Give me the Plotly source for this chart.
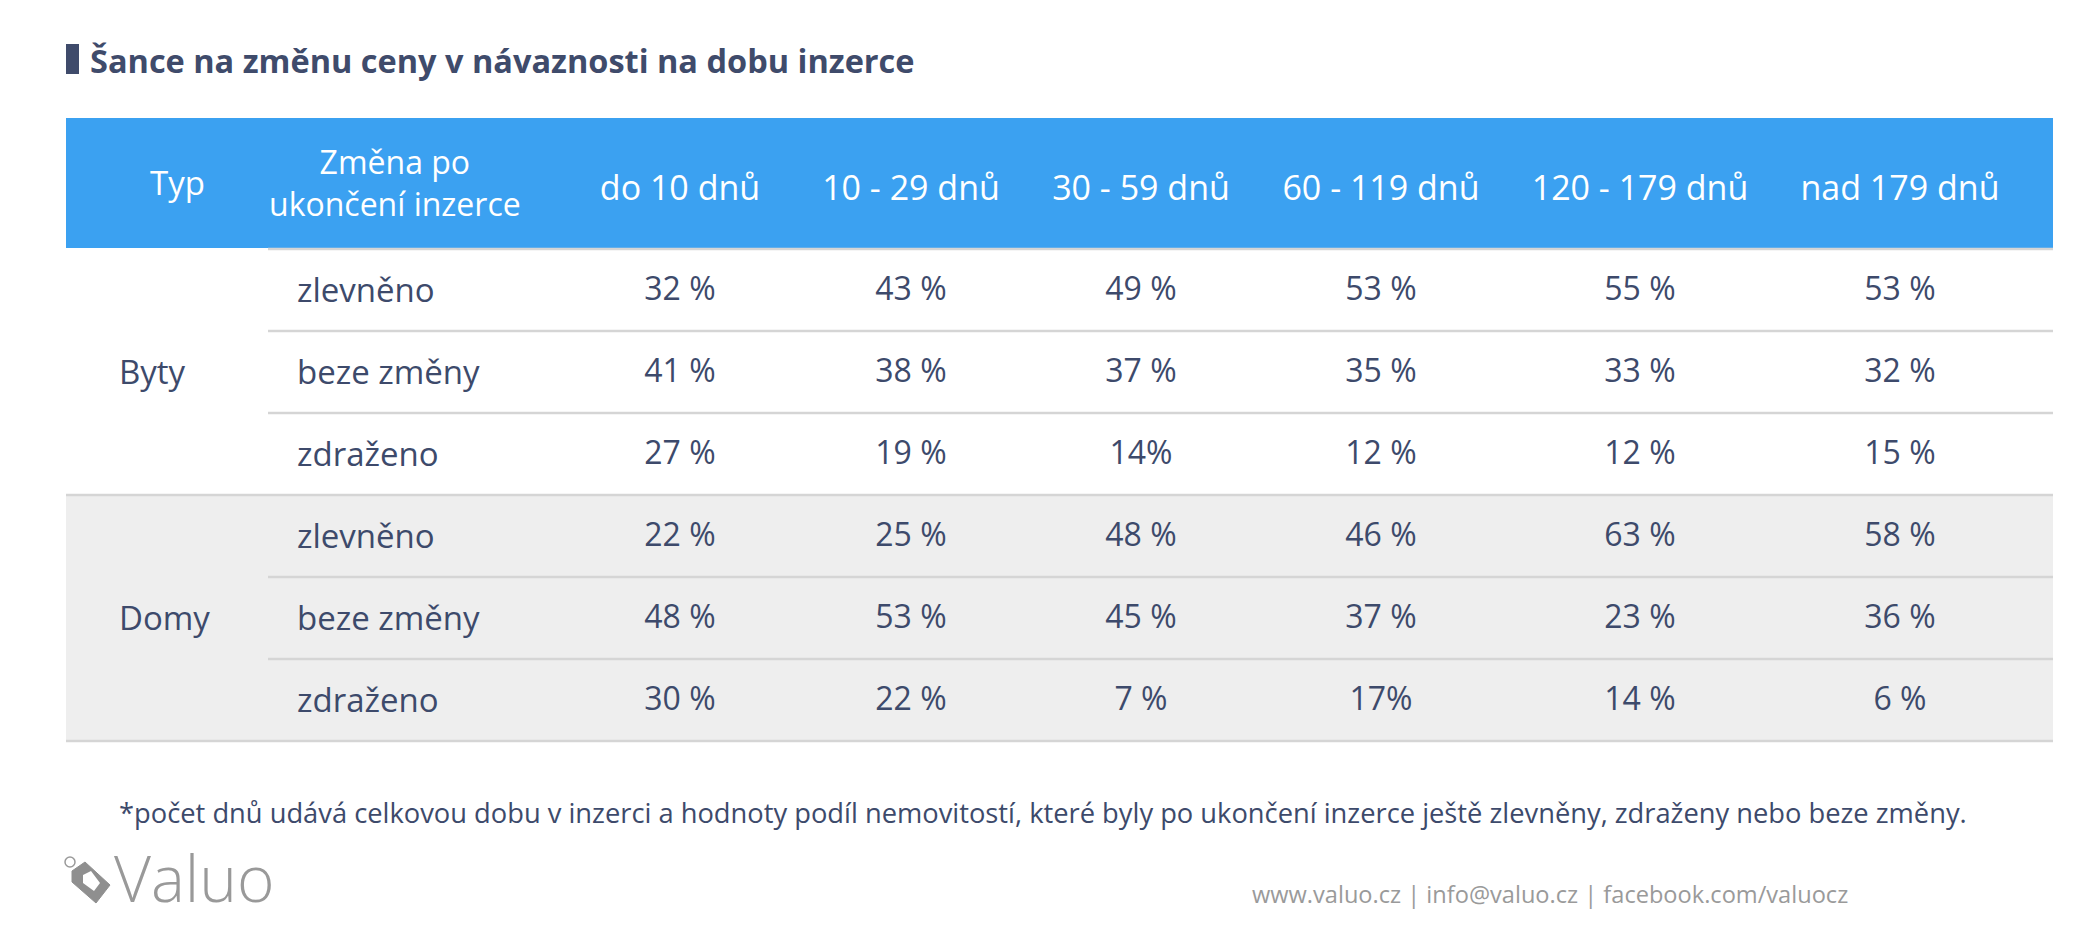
import plotly.graph_objects as go

# ---------------- data ----------------
title = "Šance na změnu ceny v návaznosti na dobu inzerce"
typ_header = "Typ"
change_header = "Změna po<br>ukončení inzerce"
periods = ["do 10 dnů", "10 - 29 dnů", "30 - 59 dnů", "60 - 119 dnů", "120 - 179 dnů", "nad 179 dnů"]
types = ["Byty", "Domy"]
changes = ["zlevněno", "beze změny", "zdraženo"]

byty_zlevneno = [32, 43, 49, 53, 55, 53]
byty_beze_zmeny = [41, 38, 37, 35, 33, 32]
byty_zdrazeno = [27, 19, 14, 12, 12, 15]
domy_zlevneno = [22, 25, 48, 46, 63, 58]
domy_beze_zmeny = [48, 53, 45, 37, 23, 36]
domy_zdrazeno = [30, 22, 7, 17, 14, 6]

# cells that the source prints without a space before "%": (row, period)
no_space_cells = [(2, 2), (5, 3)]

footnote = ("*počet dnů udává celkovou dobu v inzerci a hodnoty podíl nemovitostí, "
            "které byly po ukončení inzerce ještě zlevněny, zdraženy nebo beze změny.")
footer = "www.valuo.cz | info@valuo.cz | facebook.com/valuocz"
logo_text = "Valuo"

# ---------------- layout constants ----------------
W, H = 2100, 930
PAGE_OFF = 8  # default body margin of the html page
FONT = "Open Sans, Noto Sans, sans-serif"
TEXT_C = "#3d4a6b"
BLUE = "#3ba1f1"
GRAY_BG = "#eeeeee"
LINE_C = "#d5d5d5"

table_x0, table_x1 = 66, 2053
label_col_x0 = 268
header_y0, header_y1 = 118, 248
row_h = 82
period_x = [680, 911, 1141, 1381, 1640, 1900]
typ_x = 177
change_x = 395
label_left = 295
type_left = 117
value_dy = 3
period_header_y = 191

rows = [byty_zlevneno, byty_beze_zmeny, byty_zdrazeno,
        domy_zlevneno, domy_beze_zmeny, domy_zdrazeno]
row_labels = changes * len(types)
n_rows = len(rows)


def row_center(i):
    return header_y1 + (i + 0.5) * row_h


def row_edge(i):
    return header_y1 + i * row_h


fig = go.Figure()

# ---------------- shapes (backgrounds / lines) ----------------
shapes = []
shapes.append(dict(type="rect", xref="x", yref="y", x0=table_x0, x1=table_x1,
                   y0=header_y0, y1=header_y1, fillcolor=BLUE, line=dict(width=0), layer="below"))
g = len(changes)
shapes.append(dict(type="rect", xref="x", yref="y", x0=table_x0, x1=table_x1,
                   y0=row_edge(g), y1=row_edge(2 * g), fillcolor=GRAY_BG, line=dict(width=0), layer="below"))
for i in range(n_rows + 1):
    full = (i % g == 0) and i > 0
    shapes.append(dict(type="line", xref="x", yref="y",
                       x0=table_x0 if full else label_col_x0, x1=table_x1,
                       y0=row_edge(i) + 1, y1=row_edge(i) + 1,
                       line=dict(color=LINE_C, width=2.5)))
# title bar
shapes.append(dict(type="rect", xref="x", yref="y", x0=66, x1=79, y0=44, y1=74,
                   fillcolor="#3f4b6b", line=dict(width=0)))
# logo tag icon
shapes.append(dict(type="path", xref="x", yref="y",
                   path="M 72 871 L 85 862 L 110 885 L 96 903 L 72 882 Z",
                   fillcolor="#8f8f8f", line=dict(color="#8f8f8f", width=1)))
shapes.append(dict(type="path", xref="x", yref="y",
                   path="M 83 875 L 91 871 L 100 883 L 94 891 L 83 883 Z",
                   fillcolor="white", line=dict(width=0)))
shapes.append(dict(type="circle", xref="x", yref="y", x0=65, x1=75, y0=857, y1=867,
                   line=dict(color="#9a9a9a", width=1.5)))

# ---------------- value texts ----------------
xs, ys, texts = [], [], []
for i, vals in enumerate(rows):
    for j, v in enumerate(vals):
        xs.append(period_x[j])
        ys.append(row_center(i) + value_dy)
        texts.append(f"{v}%" if (i, j) in no_space_cells else f"{v} %")
fig.add_trace(go.Scatter(x=xs, y=ys, text=texts, mode="text", textposition="middle center",
                         textfont=dict(family=FONT, size=32, color=TEXT_C), hoverinfo="skip"))

# header period texts
fig.add_trace(go.Scatter(x=period_x, y=[period_header_y] * len(periods), text=periods, mode="text",
                         textposition="middle center",
                         textfont=dict(family=FONT, size=34, color="white"), hoverinfo="skip"))

annotations = []
annotations.append(dict(x=typ_x, y=182, xref="x", yref="y", text=typ_header, showarrow=False,
                        xanchor="center", yanchor="middle",
                        font=dict(family=FONT, size=33, color="white")))
annotations.append(dict(x=change_x, y=182, xref="x", yref="y", text=change_header,
                        showarrow=False, xanchor="center", yanchor="middle",
                        font=dict(family=FONT, size=32, color="white")))
for i, lab in enumerate(row_labels):
    annotations.append(dict(x=label_left, y=row_center(i), xref="x", yref="y", text=lab,
                            showarrow=False, xanchor="left", yanchor="middle",
                            font=dict(family=FONT, size=33, color=TEXT_C)))
for t, name in enumerate(types):
    annotations.append(dict(x=type_left, y=(row_edge(t * g) + row_edge((t + 1) * g)) / 2,
                            xref="x", yref="y", text=name, showarrow=False,
                            xanchor="left", yanchor="middle",
                            font=dict(family=FONT, size=33, color=TEXT_C)))
# title
annotations.append(dict(x=88, y=60, xref="x", yref="y", text=title, showarrow=False,
                        xanchor="left", yanchor="middle",
                        font=dict(family=FONT, size=32.5, color="#3f4b6b", weight=700)))
# footnote
annotations.append(dict(x=117, y=812, xref="x", yref="y", text=footnote, showarrow=False,
                        xanchor="left", yanchor="middle",
                        font=dict(family=FONT, size=27.3, color=TEXT_C)))
# footer
annotations.append(dict(x=1550, y=894, xref="x", yref="y", text=footer, showarrow=False,
                        xanchor="center", yanchor="middle",
                        font=dict(family=FONT, size=23.6, color="#9a9a9a")))
# logo text
annotations.append(dict(x=112, y=877, xref="x", yref="y", text=logo_text, showarrow=False,
                        xanchor="left", yanchor="middle",
                        font=dict(family=FONT, size=64, color="#999999", weight=300)))

fig.update_layout(
    width=W, height=H,
    margin=dict(l=0, r=0, t=0, b=0),
    paper_bgcolor="white", plot_bgcolor="white",
    showlegend=False,
    xaxis=dict(range=[PAGE_OFF, W + PAGE_OFF], visible=False, fixedrange=True, domain=[0, 1]),
    yaxis=dict(range=[H + PAGE_OFF, PAGE_OFF], visible=False, fixedrange=True, domain=[0, 1]),
    shapes=shapes,
    annotations=annotations,
)

fig.write_html("out.html", config={"displayModeBar": False})
